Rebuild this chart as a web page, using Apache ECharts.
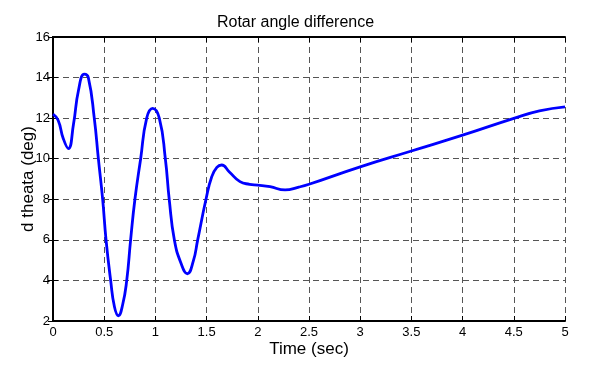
<!DOCTYPE html>
<html><head><meta charset="utf-8">
<script src="https://cdn.jsdelivr.net/npm/echarts@6/dist/echarts.min.js"></script>
<style>html,body{margin:0;padding:0;background:#fff}#c{width:591px;height:370px}</style>
</head><body><div id="c"></div>
<script>
var timeSec = [0,0.05,0.1,0.15,0.2,0.25,0.306,0.345,0.403,0.443,0.485,0.518,0.563,0.6,0.638,0.68,0.72,0.758,0.80,0.856,0.915,0.973,1.038,1.097,1.135,1.185,1.25,1.312,1.37,1.413,1.494,1.55,1.6,1.647,1.72,1.826,1.92,2.0,2.12,2.266,2.4,2.5,3,3.5,4,4.5,4.75,5];
var dTheta = [12.2,11.9,11.0,10.5,11.7,13.4,14.17,14,12,10,8,6,4,2.7,2.26,2.8,4,6,8,10,12,12.48,12,10,8,6,4.85,4.33,4.95,6,8,9.11,9.57,9.69,9.36,8.87,8.74,8.7,8.62,8.46,8.6,8.74,9.6,10.38,11.16,11.99,12.36,12.56];
var xTicks = [0,0.5,1,1.5,2,2.5,3,3.5,4,4.5,5];
var yTicks = [2,4,6,8,10,12,14,16];

var data = timeSec.map(function(t,i){return [t,dTheta[i]];});
var font = 'Liberation Sans, Arial, sans-serif';
var gridLine = {show:true,lineStyle:{color:'#555',type:[6,4],width:1}};
var chart = echarts.init(document.getElementById('c'));
chart.setOption({
  animation:false,
  title:{text:'Rotar angle difference',left:'center',top:10,textStyle:{fontFamily:font,fontSize:16,fontWeight:'normal',color:'#000'}},
  grid:{left:53,right:26,top:37,bottom:49},
  xAxis:[{type:'value',min:xTicks[0],max:xTicks[xTicks.length-1],interval:0.5,
    name:'Time (sec)',nameLocation:'middle',nameGap:20,nameMoveOverlap:false,
    nameTextStyle:{fontFamily:font,fontSize:17,color:'#000'},
    axisLine:{show:true,lineStyle:{color:'#000',width:2}},
    axisTick:{show:true,inside:true,length:5,lineStyle:{color:'#000'}},
    axisLabel:{fontFamily:font,fontSize:13,color:'#000',margin:5},
    splitLine:gridLine},
   {type:'value',position:'top',min:0,max:5,interval:0.5,
    axisLine:{show:true,lineStyle:{color:'#000',width:2}},
    axisTick:{show:true,inside:true,length:5,lineStyle:{color:'#000'}},
    axisLabel:{show:false},splitLine:{show:false}}],
  yAxis:[{type:'value',min:yTicks[0],max:yTicks[yTicks.length-1],interval:2,
    name:'d theata (deg)',nameLocation:'middle',nameGap:16,nameMoveOverlap:false,
    nameTextStyle:{fontFamily:font,fontSize:17,color:'#000'},
    axisLine:{show:true,lineStyle:{color:'#000',width:2}},
    axisTick:{show:true,inside:true,length:5,lineStyle:{color:'#000'}},
    axisLabel:{fontFamily:font,fontSize:13,color:'#000',margin:3},
    splitLine:gridLine},
   {type:'value',position:'right',min:2,max:16,interval:2,
    axisLine:{show:true,lineStyle:{color:'#000',width:2}},
    axisTick:{show:true,inside:true,length:5,lineStyle:{color:'#000'}},
    axisLabel:{show:false},splitLine:{show:false}}],
  series:[{type:'line',data:data,smooth:0.5,showSymbol:false,
    lineStyle:{color:'#0000ff',width:2.8},itemStyle:{color:'#0000ff'}}]
});
</script></body></html>
